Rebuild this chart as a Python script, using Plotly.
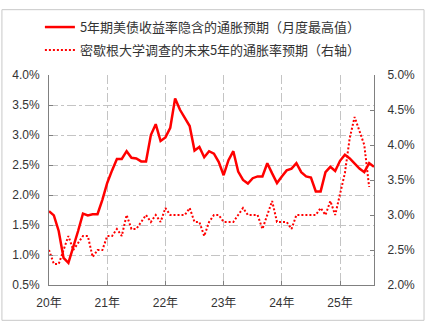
import plotly.graph_objects as go

# Month index: 0 = Jan 2020 ... 67 = Aug 2025
months = list(range(68))

# 5-year Treasury breakeven inflation (monthly max), left axis, %
breakeven_5y = [
    1.73, 1.66, 1.40, 0.95, 0.87, 1.12, 1.40, 1.69, 1.66, 1.68,
    1.68, 1.92, 2.20, 2.41, 2.60, 2.60, 2.73, 2.62, 2.61, 2.56,
    2.56, 3.00, 3.18, 2.90, 2.96, 3.12, 3.61, 3.42, 3.28, 3.15,
    2.74, 2.80, 2.63, 2.73, 2.69, 2.55, 2.33, 2.58, 2.73, 2.39,
    2.25, 2.19, 2.28, 2.31, 2.31, 2.53, 2.36, 2.20, 2.31, 2.41,
    2.44, 2.53, 2.38, 2.31, 2.29, 2.06, 2.06, 2.38, 2.47, 2.40,
    2.57, 2.67, 2.61, 2.52, 2.44, 2.38, 2.53, 2.47,
]

# Michigan survey 5-year-ahead inflation expectations, right axis, %
michigan_5y = [
    2.5, 2.3, 2.3, 2.5, 2.7, 2.5, 2.6, 2.7, 2.7, 2.4,
    2.5, 2.5, 2.7, 2.7, 2.8, 2.7, 3.0, 2.8, 2.8, 2.9,
    3.0, 2.9, 3.0, 2.9, 3.1, 3.0, 3.0, 3.0, 3.0, 3.1,
    2.9, 2.9, 2.7, 2.9, 3.0, 3.0, 2.9, 2.9, 2.9, 3.0,
    3.1, 3.0, 3.0, 3.0, 2.8, 3.0, 3.2, 2.9, 2.9, 2.9,
    2.8, 3.0, 3.0, 3.0, 3.0, 3.0, 3.1, 3.0, 3.2, 3.0,
    3.3, 3.6, 4.1, 4.4, 4.2, 4.0, 3.4,
]

year_ticks = [0, 12, 24, 36, 48, 60]
year_labels = ["20年", "21年", "22年", "23年", "24年", "25年"]
left_ticks = [0.5, 1.0, 1.5, 2.0, 2.5, 3.0, 3.5, 4.0]
right_ticks = [2.0, 2.5, 3.0, 3.5, 4.0, 4.5, 5.0]

name_solid = "5年期美债收益率隐含的通胀预期（月度最高值）"
name_dot = "密歇根大学调查的未来5年的通胀率预期（右轴）"

FONT = "Liberation Sans, Arial, Noto Sans CJK SC, sans-serif"
CJK = "Noto Sans CJK SC, sans-serif"
AX = "#808080"
GRID = "#c4c4c4"
TXT = "#333333"

fig = go.Figure()
fig.add_trace(go.Scatter(
    x=months, y=breakeven_5y, name=name_solid, mode="lines",
    line=dict(color="#ff0000", width=2.5), yaxis="y", legendgroup="a",
))
fig.add_trace(go.Scatter(
    x=months[:len(michigan_5y)], y=michigan_5y, name=name_dot, mode="lines",
    line=dict(color="#ff0000", width=2, dash="2px,2px"), yaxis="y2",
    legendgroup="b",
))

W, H = 427, 322
ml, mr, mt, mb = 48, 51, 68, 37
pw, ph = W - ml - mr, H - mt - mb

fig.update_layout(
    width=W, height=H,
    margin=dict(l=ml, r=mr, t=mt, b=mb, pad=0),
    paper_bgcolor="white", plot_bgcolor="white",
    font=dict(family=FONT, size=12, color=TXT),
    showlegend=True,
    legend=dict(
        x=-0.028, xanchor="left", y=1.0 + 65 / ph, yanchor="top",
        font=dict(family=CJK, size=13, color=TXT),
        bgcolor="rgba(0,0,0,0)", tracegroupgap=3,
        traceorder="grouped",
    ),
    xaxis=dict(
        range=[0, 67], tickvals=year_ticks, ticktext=year_labels,
        showline=True, linecolor=AX, linewidth=1,
        ticks="inside", ticklen=4, tickcolor=AX,
        showgrid=True, gridcolor=GRID, griddash="dashdot", gridwidth=1,
        zeroline=False, ticklabelstandoff=7,
        tickfont=dict(family=FONT, size=12, color=TXT),
    ),
    yaxis=dict(
        range=[0.5, 4.0], tickvals=left_ticks,
        ticktext=[f"{v:.1f}%" for v in left_ticks],
        showline=True, linecolor=AX, linewidth=1,
        ticks="inside", ticklen=4, tickcolor=AX,
        showgrid=True, gridcolor=GRID, griddash="dashdot", gridwidth=1,
        zeroline=False, ticklabelstandoff=6,
        tickfont=dict(family=FONT, size=12, color=TXT),
    ),
    yaxis2=dict(
        range=[2.0, 5.0], tickvals=right_ticks,
        ticktext=[f"{v:.1f}%" for v in right_ticks],
        overlaying="y", side="right",
        showline=True, linecolor=AX, linewidth=1,
        ticks="inside", ticklen=4, tickcolor=AX,
        showgrid=False, zeroline=False, ticklabelstandoff=10,
        tickfont=dict(family=FONT, size=12, color=TXT),
    ),
    shapes=[dict(
        type="rect", xref="paper", yref="paper",
        x0=-(ml - 0.5) / pw, x1=1 + (mr - 0.5) / pw,
        y0=-(mb - 0.5) / ph, y1=1 + (mt - 0.5) / ph,
        line=dict(color="#c8c8c8", width=1), layer="below",
    )],
)

fig.write_html("out.html")
